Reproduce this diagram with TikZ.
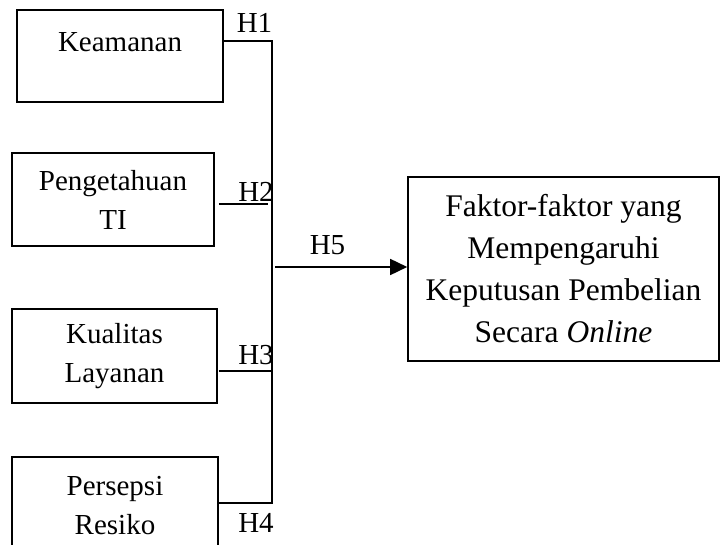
\documentclass[tikz,border=0pt]{standalone}
\usepackage{fontspec}
\setmainfont{Liberation Serif}
\usetikzlibrary{arrows.meta,positioning}

\begin{document}
\begin{tikzpicture}[
      x=1pt,y=-1pt,
      box/.style={draw=black,line width=1.6pt,align=center,inner sep=0pt,
                  font=\fontsize{29}{39}\selectfont},
      bigbox/.style={box,font=\fontsize{31.5}{42}\selectfont},
      hyp/.style={inner sep=0pt,font=\fontsize{29}{39}\selectfont},
      wire/.style={line width=1.6pt},
      arr/.style={-{Triangle[length=17pt,width=16pt]},line width=1.6pt},
    ]
    \useasboundingbox (0,0) rectangle (721,545);
    \clip (0,0) rectangle (721,545);
    % Independent variables
    \node[box,minimum width=206pt,text height=42pt,text depth=50pt,anchor=north] (keamanan) at (120,9) {Keamanan};
    \node[box,minimum width=202pt,minimum height=93pt] (pengetahuan) at (113,199.5) {Pengetahuan\\ TI};
    \node[box,minimum width=205pt,minimum height=94pt] (kualitas) at (114.5,356) {Kualitas\\ Layanan};
    \node[box,minimum width=206pt,minimum height=98pt] (persepsi) at (115,506) {Persepsi\\ Resiko};
    % Dependent variable
    \node[bigbox,minimum width=311pt,minimum height=184pt] (faktor) at (563.5,269)
        {Faktor-faktor yang\\ Mempengaruhi\\ Keputusan Pembelian\\ Secara \textit{Online}};
    % Junctions on the bus
    \coordinate (j1) at (272,41);
    \coordinate (j2) at (272,204);
    \coordinate (j3) at (272,371);
    \coordinate (j4) at (272,503);
    \coordinate (j5) at (272,267);
    % Hypothesis labels
    \node[hyp] (h1) at (254.5,23)  {H1};
    \node[hyp] (h2) at (256,192)   {H2};
    \node[hyp] (h3) at (256,355)   {H3};
    \node[hyp] (h4) at (256,523)   {H4};
    \node[hyp] (h5) at (327.5,245) {H5};

    \draw[wire] (j1 -| keamanan.east) -- (j1) -- (j4) -- (j4 -| persepsi.east);
    \draw[wire] ([xshift=4pt]j2 -| pengetahuan.east) -- ([xshift=-4pt]j2);
    \draw[wire] ([xshift=1pt]j3 -| kualitas.east) -- (j3);
    \draw[arr] ([xshift=3pt]j5) -- (j5 -| faktor.west);
  \end{tikzpicture}
\end{document}
